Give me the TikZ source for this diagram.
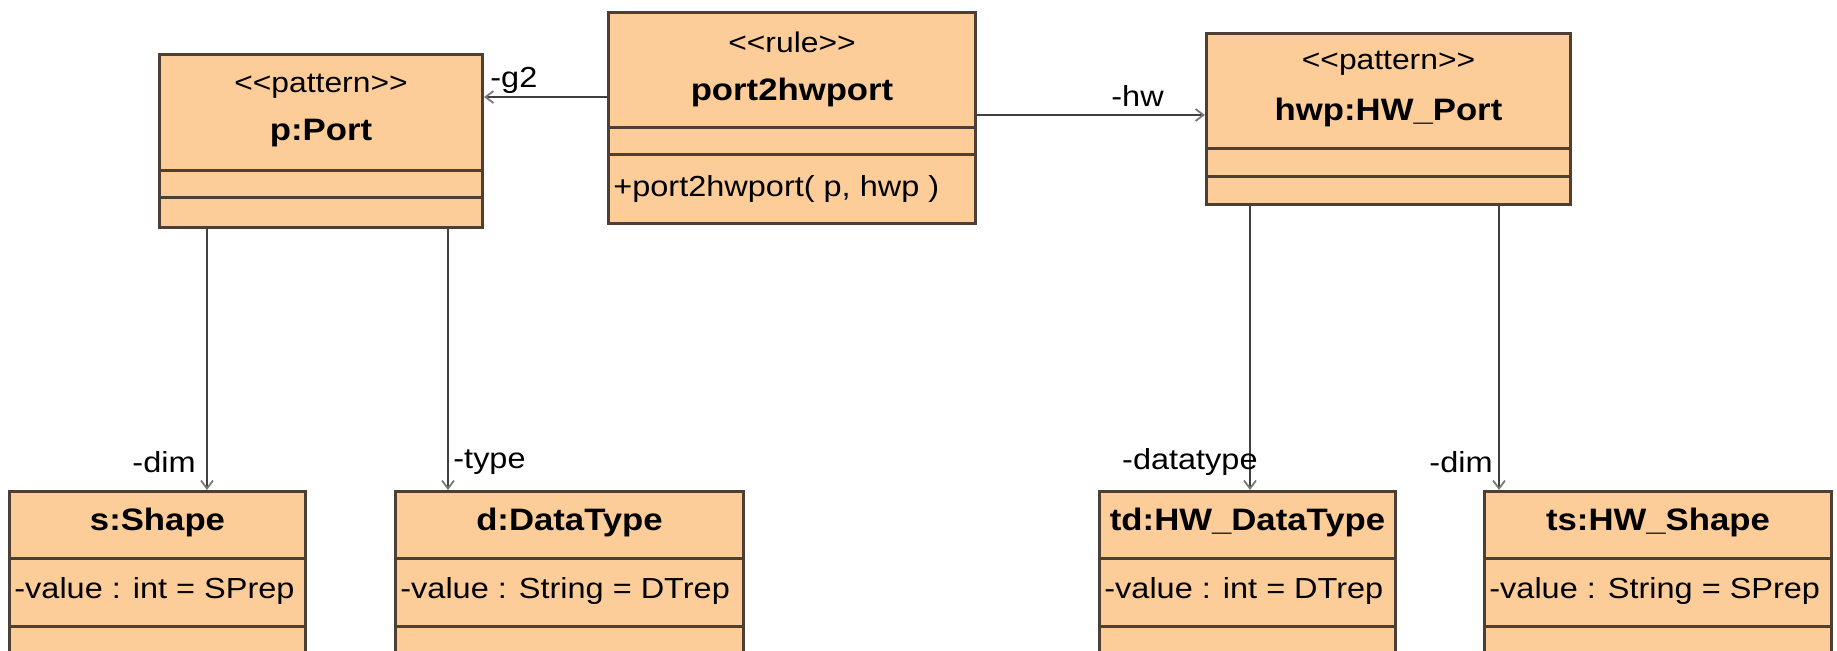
\documentclass[tikz,border=0pt]{standalone}
\usepackage{fontspec}
\setmainfont{Liberation Sans}[FakeStretch=1.12, Ligatures=TeXOff]
\usetikzlibrary{arrows.meta}
\definecolor{boxfill}{RGB}{252,204,153}
\definecolor{boxline}{RGB}{77,63,51}
\definecolor{wire}{RGB}{64,64,64}
\definecolor{tipgrey}{RGB}{120,120,120}

\begin{document}
\begin{tikzpicture}[x=0.5pt,y=-0.5pt,
  classbox/.style={draw=boxline, fill=boxfill, line width=1.5pt, inner sep=0pt, anchor=north west},
  sep/.style={draw=boxline, line width=1.5pt},
  stereo/.style={font=\fontsize{14.2}{16}\selectfont, inner sep=0pt},
  title/.style={font=\fontsize{15.5}{18}\selectfont\bfseries, inner sep=0pt},
  member/.style={font=\fontsize{14.5}{17}\selectfont, inner sep=0pt, anchor=west},
  role/.style={font=\fontsize{14.5}{17}\selectfont, inner sep=0pt},
  assoc/.style={draw=wire, line width=1.2pt,
    -{Straight Barb[length=4pt,width=6pt,line width=0.9pt,color=tipgrey]}},
]
\clip (0,0) rectangle (1837,650);
\fill[white] (0,0) rectangle (1837,650);

% class boxes
\node[classbox, minimum width=161.5pt, minimum height=86.5pt] (pPort) at (158,53) {};
\node[classbox, minimum width=183.5pt, minimum height=105.5pt] (rule) at (607,11) {};
\node[classbox, minimum width=182pt, minimum height=85.5pt] (hwp) at (1205,32) {};
\node[classbox, minimum width=148pt, minimum height=100pt] (sShape) at (8,490) {};
\node[classbox, minimum width=174pt, minimum height=100pt] (dData) at (394,490) {};
\node[classbox, minimum width=148pt, minimum height=100pt] (tdData) at (1098,490) {};
\node[classbox, minimum width=173.5pt, minimum height=100pt] (tsShape) at (1483,490) {};

% compartment separators
\draw[sep] (pPort.west |- 0,170) -- (pPort.east |- 0,170);
\draw[sep] (pPort.west |- 0,197) -- (pPort.east |- 0,197);
\draw[sep] (rule.west |- 0,127) -- (rule.east |- 0,127);
\draw[sep] (rule.west |- 0,154) -- (rule.east |- 0,154);
\draw[sep] (hwp.west |- 0,148) -- (hwp.east |- 0,148);
\draw[sep] (hwp.west |- 0,176) -- (hwp.east |- 0,176);
\foreach \b in {sShape,dData,tdData,tsShape}{
  \draw[sep] (\b.west |- 0,558) -- (\b.east |- 0,558);
  \draw[sep] (\b.west |- 0,626) -- (\b.east |- 0,626);
}

% header texts
\node[stereo] (pPortSt) at (pPort.north |- 0,86) {<<pattern>>};
\node[title]  (pPortNm) at (pPort.north |- 0,133) {p:Port};
\node[stereo] (ruleSt) at (rule.north |- 0,42) {<<rule>>};
\node[title]  (ruleNm) at (rule.north |- 0,92) {port2hwport};
\node[member] (ruleOp) at ([xshift=3pt]rule.west |- 0,189) {+port2hwport( p, hwp )};
\node[stereo] (hwpSt) at (hwp.north |- 0,63) {<<pattern>>};
\node[title]  (hwpNm) at (hwp.north |- 0,112) {hwp:HW\_Port};

\node[title] (sShapeNm) at (sShape.north |- 0,522) {s:Shape};
\node[member] (sShapeAt) at ([xshift=3pt]sShape.west |- 0,591) {-value : int = SPrep};
\node[title] (dDataNm) at (dData.north |- 0,522) {d:DataType};
\node[member] (dDataAt) at ([xshift=3pt]dData.west |- 0,591) {-value : String = DTrep};
\node[title] (tdDataNm) at (tdData.north |- 0,522) {td:HW\_DataType};
\node[member] (tdDataAt) at ([xshift=3pt]tdData.west |- 0,591) {-value : int = DTrep};
\node[title] (tsShapeNm) at (tsShape.north |- 0,522) {ts:HW\_Shape};
\node[member] (tsShapeAt) at ([xshift=3pt]tsShape.west |- 0,591) {-value : String = SPrep};

% associations
\draw[assoc] (rule.west |- 0,97) -- (pPort.east |- 0,97);
\draw[assoc] (rule.east |- 0,115) -- (hwp.west |- 0,115);
\draw[assoc] (pPort.south -| 207,0) -- (sShape.north -| 207,0);
\draw[assoc] (pPort.south -| 448,0) -- (dData.north -| 448,0);
\draw[assoc] (hwp.south -| 1250,0) -- (tdData.north -| 1250,0);
\draw[assoc] (hwp.south -| 1499,0) -- (tsShape.north -| 1499,0);

% role names
\node[role, anchor=west] (lg2) at (490,80) {-g2};
\node[role, anchor=west] (lhw) at (1111,96) {-hw};
\node[role, anchor=east] (ldim1) at (196,462) {-dim};
\node[role, anchor=west] (ltype) at (453,462) {-type};
\node[role, anchor=east] (ldtype) at (1258,462) {-datatype};
\node[role, anchor=east] (ldim2) at (1493,462) {-dim};
\end{tikzpicture}
\end{document}
